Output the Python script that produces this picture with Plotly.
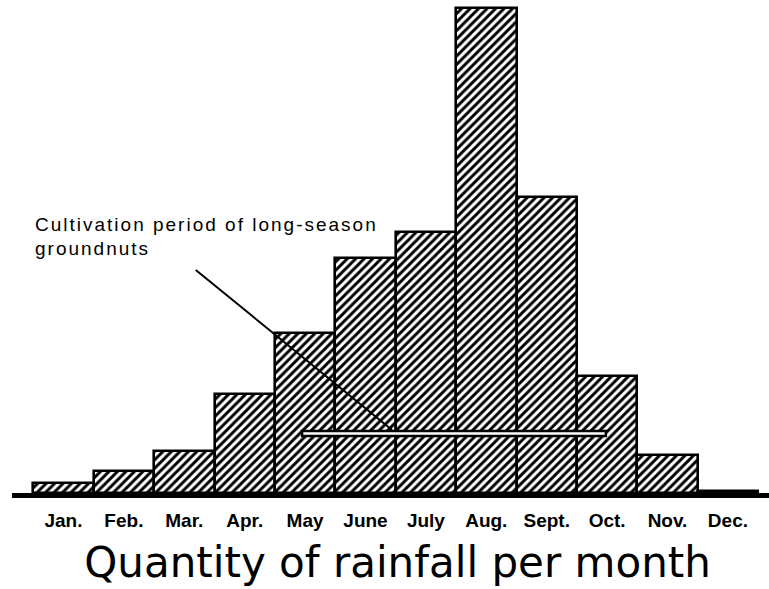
import plotly.graph_objects as go

# Monthly rainfall (mm)
months = ["Jan.", "Feb.", "Mar.", "Apr.", "May", "June", "July",
          "Aug.", "Sept.", "Oct.", "Nov.", "Dec."]
rainfall = [5, 11, 21, 49.5, 80, 117.5, 130.5, 242.5, 148, 58.5, 19, 1]

# Growing season of long-season groundnuts, in month-index units
season_start = 3.95
season_end = 8.98

label_lines = ["Cultivation period of long-season", "groundnuts"]

x_idx = list(range(len(months)))

fig = go.Figure()
fig.add_trace(go.Bar(
    x=x_idx,
    y=rainfall,
    width=1.0,
    marker=dict(
        color="white",
        line=dict(color="black", width=2.6),
        pattern=dict(shape="/", fgcolor="black", bgcolor="white",
                     size=6, solidity=0.48, fillmode="replace"),
    ),
    hoverinfo="skip",
))

# period bar drawn across the hatched columns
fig.add_shape(type="rect", xref="x", yref="y",
              x0=season_start, x1=season_end, y0=28.5, y1=31,
              line=dict(color="black", width=2.5), fillcolor="white",
              layer="above")

# leader line from the label to the period bar
fig.add_shape(type="line", xref="x", yref="y",
              x0=2.19, y0=111.5, x1=5.44, y1=31.5,
              line=dict(color="black", width=2), layer="above")

# two-line label, widely tracked like old typeset captions
for i, line in enumerate(label_lines):
    fig.add_annotation(
        text=f'<span style="letter-spacing:2px">{line}</span>',
        xref="paper", yref="paper",
        x=(33 - 12) / 757, y=1 - (224 + 24 * i) / 493,
        xanchor="left", yanchor="middle", align="left", showarrow=False,
        font=dict(family="Liberation Sans", size=19, color="black"),
    )

fig.update_layout(
    width=769, height=589,
    margin=dict(l=12, r=0, t=0, b=96),
    paper_bgcolor="white", plot_bgcolor="white",
    showlegend=False,
    bargap=0,
    title=dict(text="Quantity of rainfall per month",
               x=0.517, xref="container", xanchor="center",
               y=1 - 562 / 589, yref="container", yanchor="middle",
               font=dict(family="DejaVu Sans", size=42, color="black")),
    xaxis=dict(
        range=[(12 - 63.5) / 60.4, (769 - 63.5) / 60.4],
        tickmode="array", tickvals=x_idx, ticktext=months,
        showline=True, linecolor="black", linewidth=5,
        showgrid=False, zeroline=False, ticks="",
        ticklabelstandoff=6,
        tickfont=dict(family="Liberation Sans", size=19, color="black",
                      weight="bold"),
    ),
    yaxis=dict(range=[0, 246.5], visible=False, showgrid=False,
               zeroline=False),
)

fig.write_html("out.html")
